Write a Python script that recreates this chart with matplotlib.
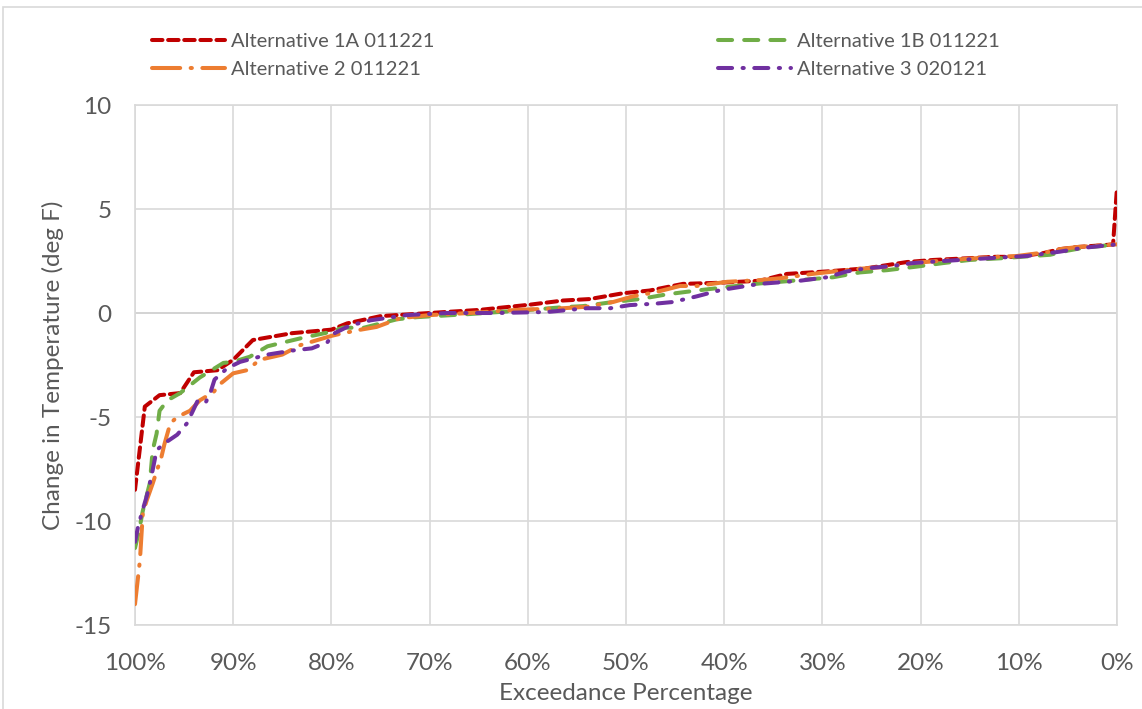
import matplotlib
matplotlib.use("Agg")
import matplotlib.pyplot as plt
from matplotlib.patches import Rectangle
from matplotlib.ticker import FuncFormatter

plt.rcParams['font.family'] = ['Lato', 'DejaVu Sans']
plt.rcParams['axes.unicode_minus'] = False

# exceedance (%) and change in temperature (deg F)
x_1a = [100, 99.0, 97.5, 95.4, 94.0, 91.6, 90.0, 88.0, 84.0, 80.0, 78.4, 75.0, 70.0, 64.9,
        59.8, 56.4, 53.7, 50.3, 47.6, 44.2, 40.7, 36.4, 33.6, 29.5, 25.5, 21.4, 18.7, 15.3,
        12.6, 10.2, 7.5, 5.8, 4.1, 1.4, 0.4, 0.0]
y_1a = [-8.5, -4.5, -3.95, -3.85, -2.85, -2.75, -2.25, -1.3, -0.97, -0.8, -0.5, -0.15, 0.0, 0.15,
        0.4, 0.6, 0.67, 0.95, 1.08, 1.4, 1.45, 1.55, 1.88, 2.0, 2.15, 2.45, 2.55, 2.63,
        2.7, 2.7, 2.88, 3.07, 3.17, 3.26, 3.3, 6.05]

x_1b = [100, 99.6, 99.2, 98.5, 98.2, 97.8, 97.5, 96.7, 95.4, 93.4, 91.0, 90.0, 88.3, 86.5,
        83.0, 80.0, 78.8, 76.8, 73.3, 71.3, 65.9, 59.8, 56.4, 54.4, 51.3, 48.6, 45.8, 42.8,
        39.7, 36.4, 34.3, 28.9, 26.2, 23.4, 20.4, 17.7, 15.0, 11.9, 6.8, 5.0, 3.5, 0.0]
y_1b = [-11.3, -10.5, -9.5, -8.2, -6.6, -5.8, -4.7, -4.2, -3.85, -3.1, -2.4, -2.35, -2.1, -1.6,
        -1.2, -0.9, -0.7, -0.72, -0.3, -0.2, -0.05, 0.15, 0.28, 0.33, 0.53, 0.67, 0.9, 1.08,
        1.25, 1.42, 1.5, 1.72, 1.95, 2.06, 2.23, 2.4, 2.55, 2.63, 2.8, 3.0, 3.13, 3.3]

x_2 = [100, 99.5, 99.2, 98.8, 98.2, 97.3, 97.0, 96.4, 95.7, 94.4, 93.4, 92.0, 91.3, 90.0,
       88.6, 87.3, 85.0, 83.2, 80.0, 79.1, 77.0, 75.4, 73.0, 70.0, 65.9, 61.1, 56.4, 54.0,
       51.3, 49.3, 47.0, 44.5, 42.8, 39.7, 36.4, 34.3, 31.0, 26.9, 23.5, 20.8, 17.0, 12.2,
       10.2, 7.1, 5.8, 4.1, 1.4, 0.0]
y_2 = [-14.0, -11.9, -9.6, -9.0, -8.2, -6.9, -6.3, -5.3, -5.0, -4.7, -4.2, -3.8, -3.4, -2.9,
       -2.75, -2.25, -2.0, -1.55, -1.1, -1.0, -0.8, -0.67, -0.25, -0.1, 0.0, 0.15, 0.23, 0.3,
       0.53, 0.8, 1.0, 1.3, 1.3, 1.5, 1.58, 1.67, 1.88, 2.1, 2.22, 2.4, 2.55, 2.7,
       2.74, 2.93, 3.07, 3.17, 3.26, 3.3]

x_3 = [100, 99.7, 99.3, 98.8, 98.5, 98.2, 97.8, 97.1, 95.7, 94.7, 93.6, 92.8, 92.3, 91.9,
       90.6, 89.3, 86.5, 83.9, 82.0, 80.4, 79.8, 78.1, 76.0, 72.3, 68.2, 63.1, 58.0, 54.0,
       51.6, 49.6, 47.0, 45.2, 42.8, 40.4, 36.4, 32.3, 29.5, 27.5, 25.5, 23.1, 20.8, 18.7,
       14.3, 9.2, 5.8, 3.5, 0.0]
y_3 = [-11.0, -10.3, -9.6, -8.8, -8.2, -7.55, -6.6, -6.3, -5.85, -5.3, -4.2, -4.3, -3.8, -3.2,
       -2.65, -2.35, -2.0, -1.8, -1.7, -1.4, -1.0, -0.6, -0.35, -0.1, 0.0, 0.0, 0.05, 0.23,
       0.23, 0.38, 0.45, 0.53, 0.8, 1.1, 1.4, 1.55, 1.72, 2.0, 2.15, 2.25, 2.4, 2.47,
       2.6, 2.74, 2.95, 3.13, 3.3]

labels = ["Alternative 1A 011221", "Alternative 1B 011221",
          "Alternative 2 011221", "Alternative 3 020121"]
colors = ["#c00000", "#70ad47", "#ed7d31", "#7030a0"]
dashes = [(2.6, 1.4), (3.5, 3.0), (7.0, 2.6, 0.3, 2.6), (3.5, 2.6, 0.3, 2.6)]

grey_txt = "#595959"
grid_c = "#d9d9d9"

fig = plt.figure(figsize=(11.42, 7.09), dpi=100)
ax = fig.add_axes([135 / 1142, 84 / 709, 982 / 1142, 520 / 709])

series = [(x_1a, y_1a), (x_1b, y_1b), (x_2, y_2), (x_3, y_3)]
handles = []
for (xs, ys), lab, c, d in zip(series, labels, colors, dashes):
    h, = ax.plot(xs, ys, color=c, lw=2.9, dashes=d, dash_capstyle='round',
                 label=lab, zorder=3)
    handles.append(h)

ax.set_xlim(100, 0)
ax.set_ylim(-15, 10)
ax.set_xticks(range(100, -1, -10))
ax.set_yticks(range(-15, 11, 5))
ax.xaxis.set_major_formatter(FuncFormatter(lambda v, p: f"{int(v)}%"))
ax.grid(True, color=grid_c, lw=1.2, zorder=0)
ax.axhline(0, color="#bfbfbf", lw=1.4, zorder=1)
for s in ax.spines.values():
    s.set_color(grid_c)
    s.set_linewidth(1.2)
ax.tick_params(length=0, labelsize=17.5, labelcolor=grey_txt)
ax.tick_params(axis='y', pad=17)
ax.tick_params(axis='x', pad=20)
ax.set_xlabel("Exceedance Percentage", fontsize=17.5, color=grey_txt, labelpad=7)
ax.set_ylabel("Change in Temperature (deg F)", fontsize=17.5, color=grey_txt, labelpad=7)

# legend, two columns above the plot
leg_kw = dict(loc='upper left', frameon=False, fontsize=14.5, handlelength=3.6,
              handletextpad=0.3, borderpad=0, borderaxespad=0, labelspacing=0.55,
              labelcolor=grey_txt)
fig.legend([handles[0], handles[2]], [labels[0], labels[2]],
           bbox_to_anchor=(152 / 1142, 1 - 33 / 709), **leg_kw)
fig.legend([handles[1], handles[3]], [labels[1], labels[3]],
           bbox_to_anchor=(718 / 1142, 1 - 33 / 709), **leg_kw)

# chart area border
fig.patches.append(Rectangle((3 / 1142, -0.1), 1.2, 1.1 - 7 / 709, transform=fig.transFigure,
                             fill=False, edgecolor=grid_c, lw=1.2))

fig.savefig("out.png", dpi=100)
